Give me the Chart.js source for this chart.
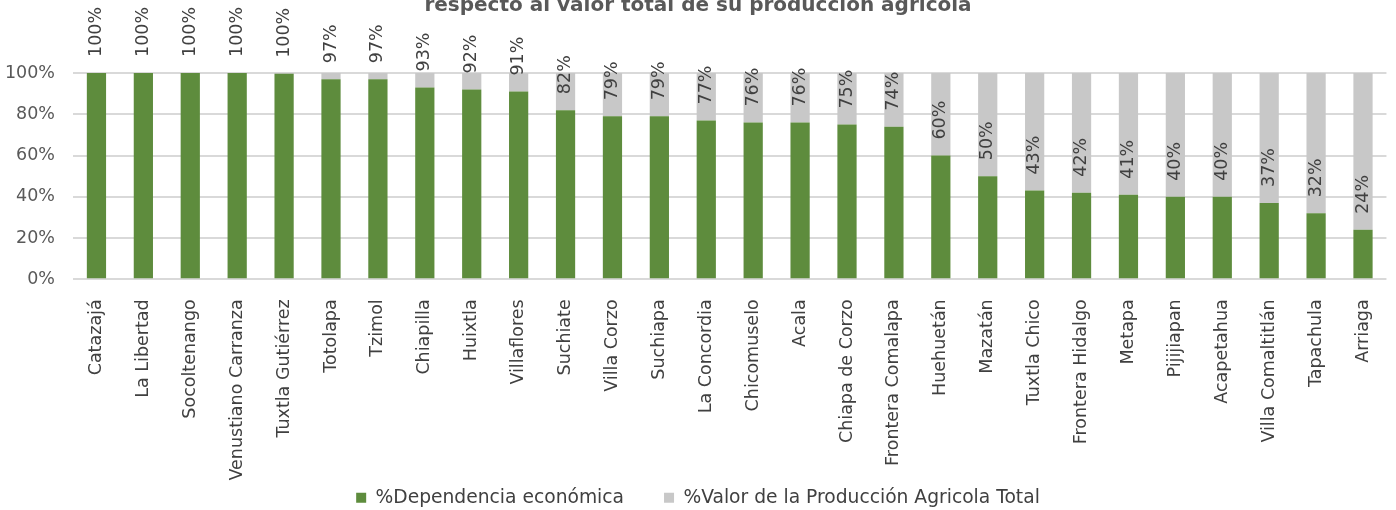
<!DOCTYPE html>
<html>
<head>
<meta charset="utf-8">
<script src="https://cdn.jsdelivr.net/npm/chart.js@4.4.1/dist/chart.umd.min.js"></script>
<style>
  html, body { margin: 0; padding: 0; background: #fff; }
  #wrap { position: relative; width: 1396px; height: 510px; }
</style>
</head>
<body>
<div id="wrap"><canvas id="grafica"></canvas></div>
<script>
const municipios = ['Catazajá', 'La Libertad', 'Socoltenango', 'Venustiano Carranza', 'Tuxtla Gutiérrez',
  'Totolapa', 'Tzimol', 'Chiapilla', 'Huixtla', 'Villaflores', 'Suchiate', 'Villa Corzo', 'Suchiapa',
  'La Concordia', 'Chicomuselo', 'Acala', 'Chiapa de Corzo', 'Frontera Comalapa', 'Huehuetán', 'Mazatán',
  'Tuxtla Chico', 'Frontera Hidalgo', 'Metapa', 'Pijijiapan', 'Acapetahua', 'Villa Comaltitlán',
  'Tapachula', 'Arriaga'];
const dependencia = [100, 100, 100, 100, 99.6, 97, 97, 93, 92, 91, 82, 79, 79, 77, 76, 76, 75, 74,
  60, 50, 43, 42, 41, 40, 40, 37, 32, 24];
const valorTotal = [0, 0, 0, 0, 0.4, 3, 3, 7, 8, 9, 18, 21, 21, 23, 24, 24, 25, 26,
  40, 50, 57, 58, 59, 60, 60, 63, 68, 76];
const yTicks = [0, 20, 40, 60, 80, 100];

const fuente = '"DejaVu Sans", sans-serif';

// etiquetas verticales encima de la barra verde
const etiquetas = {
  id: 'etiquetas',
  afterDatasetsDraw(chart) {
    const ctx = chart.ctx;
    const meta = chart.getDatasetMeta(0);
    ctx.save();
    ctx.font = '17.5px ' + fuente;
    ctx.fillStyle = '#404040';
    ctx.textAlign = 'left';
    ctx.textBaseline = 'middle';
    meta.data.forEach((bar, i) => {
      ctx.save();
      ctx.translate(bar.x, bar.y - 16);
      ctx.rotate(-Math.PI / 2);
      ctx.fillText(Math.round(dependencia[i]) + '%', 0, 0);
      ctx.restore();
    });
    ctx.restore();
  }
};

new Chart(document.getElementById('grafica'), {
  type: 'bar',
  data: {
    labels: municipios,
    datasets: [{
      label: '%Dependencia económica',
      data: dependencia,
      backgroundColor: '#5E8C3D',
      barPercentage: 0.41,
      categoryPercentage: 1
    }, {
      label: '%Valor de la Producción Agricola Total',
      data: valorTotal,
      backgroundColor: '#C8C8C8',
      barPercentage: 0.41,
      categoryPercentage: 1
    }]
  },
  options: {
    responsive: true,
    maintainAspectRatio: false,
    animation: false,
    layout: { padding: { top: 0, left: 0, right: 0, bottom: -7 } },
    scales: {
      x: {
        stacked: true,
        grid: { display: false },
        border: { display: false },
        ticks: {
          autoSkip: false,
          maxRotation: 90,
          minRotation: 90,
          padding: 12,
          color: '#404040',
          font: { family: fuente, size: 17.5 }
        },
        afterFit: (s) => {
          s.height = 169;
          // los nombres largos bajan hasta la leyenda, no recortar
          s._computeLabelArea = () => undefined;
        }
      },
      y: {
        stacked: true,
        min: 0,
        max: 100,
        afterBuildTicks: (s) => { s.ticks = yTicks.map(v => ({ value: v })); },
        ticks: {
          padding: 18,
          color: '#595959',
          font: { family: fuente, size: 17.5 },
          callback: (v) => v + '%'
        },
        grid: { color: '#D9D9D9', lineWidth: 2, drawTicks: false },
        border: { display: false },
        afterFit: (s) => { s.width = 73; }
      }
    },
    plugins: {
      title: {
        display: true,
        text: 'respecto al valor total de su producción agrícola',
        color: '#595959',
        font: { family: fuente, size: 20, weight: 'bold' },
        padding: { top: -6, bottom: 55 }
      },
      legend: {
        position: 'bottom',
        labels: {
          boxWidth: 10,
          boxHeight: 10,
          padding: 40,
          color: '#404040',
          font: { family: fuente, size: 18.7 }
        }
      },
      tooltip: { enabled: false }
    }
  },
  plugins: [etiquetas]
});
</script>
</body>
</html>
